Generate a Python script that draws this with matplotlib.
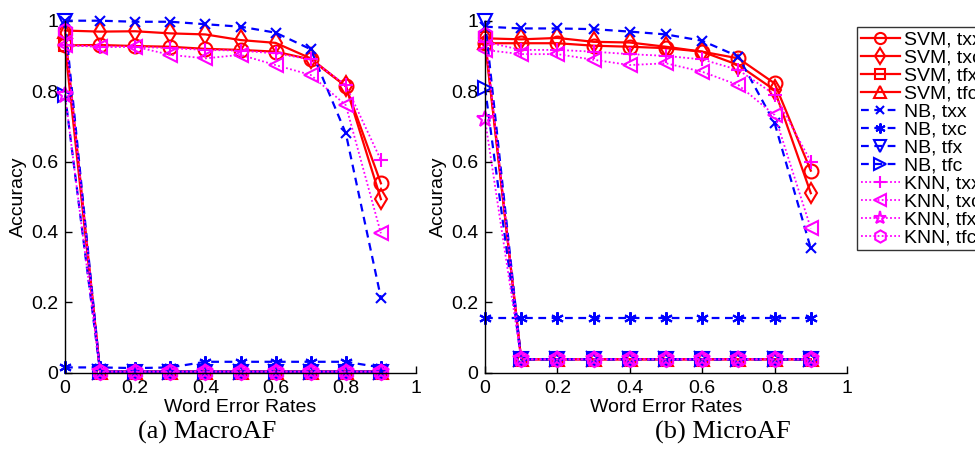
import matplotlib
matplotlib.use("Agg")
import matplotlib.pyplot as plt

plt.rcParams['font.family'] = ['Liberation Sans', 'DejaVu Sans']

wer = [0.0, 0.1, 0.2, 0.3, 0.4, 0.5, 0.6, 0.7, 0.8, 0.9]

labels = ["SVM, txx", "SVM, txc", "SVM, tfx", "SVM, tfc",
          "NB, txx", "NB, txc", "NB, tfx", "NB, tfc",
          "KNN, txx", "KNN, txc", "KNN, tfx", "KNN, tfc"]

# MacroAF
macro_svm_txx = [0.93, 0.931, 0.928, 0.926, 0.920, 0.917, 0.912, 0.890, 0.814, 0.538]
macro_svm_txc = [0.972, 0.969, 0.970, 0.964, 0.961, 0.945, 0.937, 0.893, 0.814, 0.493]
macro_svm_tfx = [0.93, 0.003, 0.003, 0.003, 0.003, 0.003, 0.003, 0.003, 0.003, 0.003]
macro_svm_tfc = [0.97, 0.003, 0.003, 0.003, 0.003, 0.003, 0.003, 0.003, 0.003, 0.003]
macro_nb_txx = [1.0, 1.0, 0.997, 0.997, 0.990, 0.983, 0.966, 0.919, 0.680, 0.213]
macro_nb_txc = [0.015, 0.015, 0.013, 0.015, 0.031, 0.031, 0.031, 0.031, 0.031, 0.015]
macro_nb_tfx = [1.0, 0.003, 0.003, 0.003, 0.003, 0.003, 0.003, 0.003, 0.003, 0.003]
macro_nb_tfc = [0.79, 0.003, 0.003, 0.003, 0.003, 0.003, 0.003, 0.003, 0.003, 0.003]
macro_knn_txx = [0.93, 0.926, 0.926, 0.922, 0.917, 0.915, 0.907, 0.890, 0.817, 0.604]
macro_knn_txc = [0.931, 0.926, 0.926, 0.903, 0.893, 0.903, 0.874, 0.846, 0.760, 0.396]
macro_knn_tfx = [0.79, 0.003, 0.003, 0.003, 0.003, 0.003, 0.003, 0.003, 0.003, 0.003]
macro_knn_tfc = [0.97, 0.003, 0.003, 0.003, 0.003, 0.003, 0.003, 0.003, 0.003, 0.003]

# MicroAF
micro_svm_txx = [0.936, 0.936, 0.936, 0.929, 0.926, 0.922, 0.912, 0.893, 0.822, 0.574]
micro_svm_txc = [0.950, 0.947, 0.951, 0.940, 0.938, 0.926, 0.912, 0.874, 0.803, 0.510]
micro_svm_tfx = [0.95, 0.038, 0.038, 0.038, 0.038, 0.038, 0.038, 0.038, 0.038, 0.038]
micro_svm_tfc = [0.94, 0.038, 0.038, 0.038, 0.038, 0.038, 0.038, 0.038, 0.038, 0.038]
micro_nb_txx = [0.983, 0.978, 0.978, 0.976, 0.969, 0.961, 0.943, 0.898, 0.709, 0.353]
micro_nb_txc = [0.156, 0.156, 0.156, 0.156, 0.156, 0.156, 0.156, 0.156, 0.156, 0.156]
micro_nb_tfx = [1.0, 0.038, 0.038, 0.038, 0.038, 0.038, 0.038, 0.038, 0.038, 0.038]
micro_nb_tfc = [0.81, 0.038, 0.038, 0.038, 0.038, 0.038, 0.038, 0.038, 0.038, 0.038]
micro_knn_txx = [0.94, 0.917, 0.917, 0.912, 0.905, 0.900, 0.890, 0.860, 0.790, 0.600]
micro_knn_txc = [0.917, 0.905, 0.905, 0.889, 0.874, 0.879, 0.855, 0.817, 0.732, 0.410]
micro_knn_tfx = [0.72, 0.038, 0.038, 0.038, 0.038, 0.038, 0.038, 0.038, 0.038, 0.038]
micro_knn_tfc = [0.96, 0.038, 0.038, 0.038, 0.038, 0.038, 0.038, 0.038, 0.038, 0.038]

macro = [macro_svm_txx, macro_svm_txc, macro_svm_tfx, macro_svm_tfc,
         macro_nb_txx, macro_nb_txc, macro_nb_tfx, macro_nb_tfc,
         macro_knn_txx, macro_knn_txc, macro_knn_tfx, macro_knn_tfc]
micro = [micro_svm_txx, micro_svm_txc, micro_svm_tfx, micro_svm_tfc,
         micro_nb_txx, micro_nb_txc, micro_nb_tfx, micro_nb_tfc,
         micro_knn_txx, micro_knn_txc, micro_knn_tfx, micro_knn_tfc]

colors = ['red'] * 4 + ['blue'] * 4 + ['magenta'] * 4
styles = ['-'] * 4 + [(0, (3.5, 2.5))] * 4 + [(0, (1, 1.3))] * 4
asterisk = (6, 2, 0)
markers = ['o', 'd', 's', '^', 'x', asterisk, 'v', '>', '+', '<', '*', 'h']
msizes = [10, 10, 9, 10, 7, 9, 10, 10, 10, 10, 12, 11]
lws = [1.6] * 4 + [1.6] * 4 + [1.3] * 4

fig = plt.figure(figsize=(9.75, 4.62), dpi=100)
W, H = 975.0, 462.0
ax1 = fig.add_axes([65 / W, (H - 372.7) / H, 351 / W, 352 / H])
ax2 = fig.add_axes([485 / W, (H - 372.7) / H, 362 / W, 352 / H])

handles = []
for ax, data in ((ax1, macro), (ax2, micro)):
    for i, ys in enumerate(data):
        h, = ax.plot(wer, ys, color=colors[i], linestyle=styles[i], lw=lws[i],
                     marker=markers[i], markersize=msizes[i], markerfacecolor='none',
                     markeredgecolor=colors[i], markeredgewidth=1.5,
                     clip_on=False, label=labels[i])
        if ax is ax1:
            handles.append(h)
    ax.set_xlim(0, 1)
    ax.set_ylim(0, 1)
    ax.set_xticks([0, 0.2, 0.4, 0.6, 0.8, 1])
    ax.set_xticklabels(['0', '0.2', '0.4', '0.6', '0.8', '1'])
    ax.set_yticks([0, 0.2, 0.4, 0.6, 0.8, 1])
    ax.set_yticklabels(['0', '0.2', '0.4', '0.6', '0.8', '1'])
    ax.spines['top'].set_visible(False)
    ax.spines['right'].set_visible(False)
    for s in ('left', 'bottom'):
        ax.spines[s].set_linewidth(1.0)
    ax.tick_params(direction='in', length=5, width=1, labelsize=14, pad=5)
    ax.set_xlabel('Word Error Rates', fontsize=14, labelpad=2)
    ax.set_ylabel('Accuracy', fontsize=14, labelpad=3)

leg = fig.legend(handles=handles, loc='upper left',
                 bbox_to_anchor=(857 / W, 1 - 27 / H), fontsize=14,
                 frameon=True, fancybox=False, edgecolor='black',
                 labelspacing=0.02, handlelength=2.0, handletextpad=0.2,
                 borderpad=0.2, borderaxespad=0, markerscale=0.8)
leg.get_frame().set_linewidth(1.0)

fig.text(207 / W, 1 - 432 / H, '(a) MacroAF', ha='center', va='center',
         fontsize=19, family=['Liberation Serif', 'DejaVu Serif'])
fig.text(723 / W, 1 - 432 / H, '(b) MicroAF', ha='center', va='center',
         fontsize=19, family=['Liberation Serif', 'DejaVu Serif'])

fig.savefig('out.png', dpi=100)
